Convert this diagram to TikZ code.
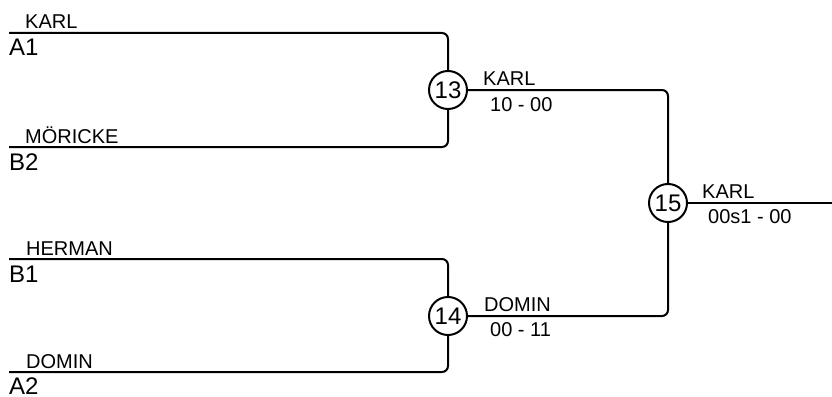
\documentclass[tikz,border=0pt]{standalone}
\usepackage{fontspec}
\setmainfont{Liberation Sans}
\tikzstyle{bracket} = [line width=2pt, rounded corners=6pt]
\tikzstyle{match} = [draw, circle, line width=2pt, minimum size=38pt,
    inner sep=0pt, fill=white, font=\fontsize{24}{24}\selectfont]
\tikzstyle{player} = [anchor=base west, inner sep=0pt, font=\fontsize{20}{20}\selectfont]
\tikzstyle{seed} = [anchor=base west, inner sep=0pt, font=\fontsize{24}{24}\selectfont]

\begin{document}
\begin{tikzpicture}[x=1pt, y=-1pt]
                \useasboundingbox (0,0) rectangle (832,396);
                % entries
                \coordinate (a1) at (9,33);
                \coordinate (b2) at (9,147);
                \coordinate (b1) at (9,259);
                \coordinate (a2) at (9,372);
                \coordinate (out) at (832,203);
                % matches
                \node[match] (m13) at (448,90) {13};
                \node[match] (m14) at (448,316) {14};
                \node[match] (m15) at (668,203) {15};
                % lines
                \draw[bracket] (a1) -| (m13);
                \draw[bracket] (b2) -| (m13);
                \draw[bracket] (b1) -| (m14);
                \draw[bracket] (a2) -| (m14);
                \draw[bracket] (m13) -| (m15);
                \draw[bracket] (m14) -| (m15);
                \draw[bracket] (m15) -- (out);
                % names and seeds
                \node[player] (p1) at (25,29) {KARL};
                \node[seed] (s1) at (9,56) {A1};
                \node[player] (p2) at (25,143) {MÖRICKE};
                \node[seed] (s2) at (9,170) {B2};
                \node[player] (p3) at (26,255) {HERMAN};
                \node[seed] (s3) at (9,282) {B1};
                \node[player] (p4) at (26,368) {DOMIN};
                \node[seed] (s4) at (9,394) {A2};
                % winners and scores
                \node[player] (w13) at (483,85) {KARL};
                \node[player] (r13) at (490,111) {10 - 00};
                \node[player] (w14) at (484,311) {DOMIN};
                \node[player] (r14) at (490,336) {00 - 11};
                \node[player] (w15) at (702,198) {KARL};
                \node[player] (r15) at (708,223) {00s1 - 00};
            \end{tikzpicture}
\end{document}
